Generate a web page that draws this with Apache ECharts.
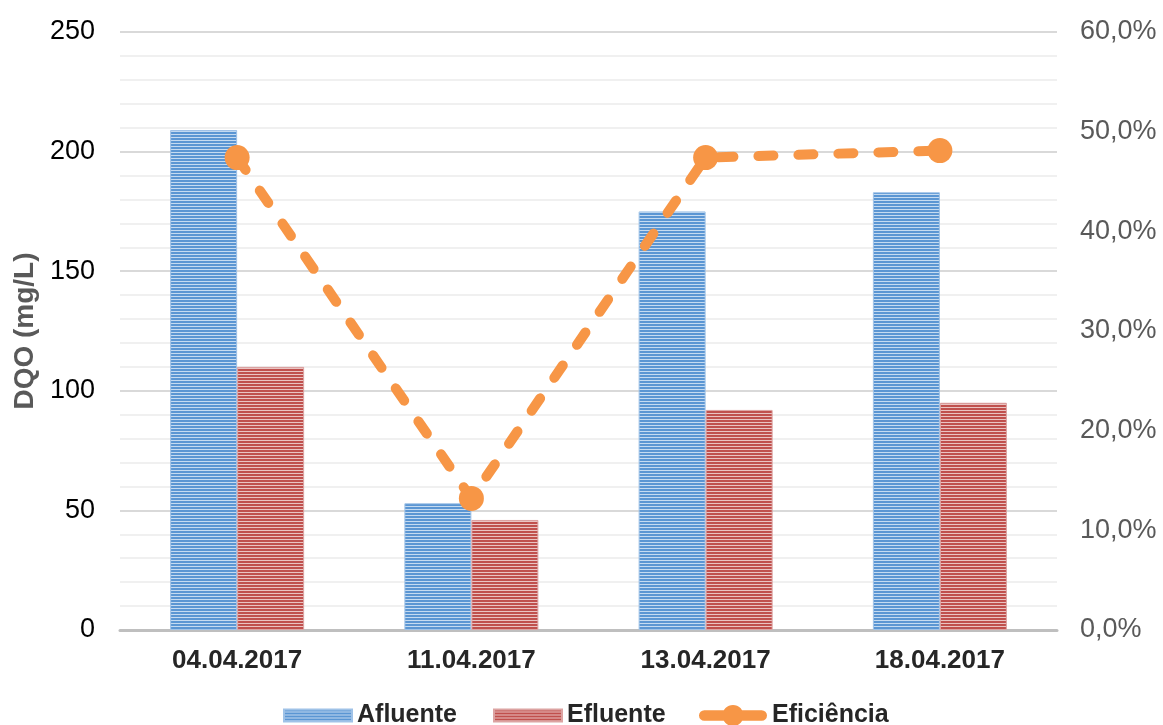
<!DOCTYPE html>
<html>
<head>
<meta charset="utf-8">
<script src="https://cdn.jsdelivr.net/npm/echarts@6/dist/echarts.min.js"></script>
<style>html,body{margin:0;padding:0;background:#fff;}#c{width:1163px;height:725px;}</style>
</head>
<body>
<div id="c"></div>
<script>
var categories = ['04.04.2017', '11.04.2017', '13.04.2017', '18.04.2017'];
var afluente = [209, 53, 175, 183];
var efluente = [110, 46, 92, 95];
var eficiencia = [47.4, 13.2, 47.4, 48.1];
var leftTicks = [0, 50, 100, 150, 200, 250];
var rightTicks = [0, 10, 20, 30, 40, 50, 60];

function stripe(dark, light) {
  var c = document.createElement('canvas');
  c.width = 4; c.height = 3;
  var ctx = c.getContext('2d');
  ctx.fillStyle = light; ctx.fillRect(0, 0, 4, 3);
  ctx.fillStyle = dark; ctx.fillRect(0, 0, 4, 2);
  return { image: c, repeat: 'repeat' };
}
var blue = stripe('#5b96d3', '#c5dbf1');
var red = stripe('#c0504d', '#eac3c2');
var lineIcon = 'path://M6,7 H60 A5,5 0 0 1 60,17 H6 A5,5 0 0 1 6,7 Z M23,12 A10,10 0 1 1 43,12 A10,10 0 1 1 23,12 Z';

var chart = echarts.init(document.getElementById('c'));
var font = 'Liberation Sans, Arial, sans-serif';
var legendText = { fontFamily: font, fontSize: 25, fontWeight: 'bold', color: '#262626' };
chart.setOption({
  animation: false,
  grid: { left: 120, right: 106, top: 32, bottom: 95 },
  legend: [
    {
      top: 698, left: 278,
      itemGap: 36, itemWidth: 68, itemHeight: 12,
      textStyle: legendText,
      data: [
        { name: 'Afluente', icon: 'rect', itemStyle: { color: blue } },
        { name: 'Efluente', icon: 'rect', itemStyle: { color: red } }
      ]
    },
    {
      top: 698, left: 694,
      itemWidth: 68, itemHeight: 25,
      textStyle: legendText,
      data: [ { name: 'Eficiência', icon: lineIcon, itemStyle: { color: '#f79646' } } ]
    }
  ],
  xAxis: {
    type: 'category',
    data: categories,
    axisLine: { lineStyle: { color: '#bfbfbf', width: 3 } },
    axisTick: { show: false },
    axisLabel: { fontFamily: font, fontSize: 26, fontWeight: 'bold', color: '#262626', margin: 18 }
  },
  yAxis: [
    {
      type: 'value', min: 0, max: 250, interval: 50,
      name: 'DQO (mg/L)', nameLocation: 'middle', nameGap: 79,
      nameTextStyle: { fontFamily: font, fontSize: 28, fontWeight: 'bold', color: '#595959' },
      axisLine: { show: false }, axisTick: { show: false },
      axisLabel: { fontFamily: font, fontSize: 27, color: '#000', margin: 25,
        formatter: function (v) { return leftTicks.indexOf(v) >= 0 ? String(v) : ''; } },
      splitLine: { lineStyle: { color: '#d9d9d9', width: 2 } },
      minorTick: { show: false, splitNumber: 5 },
      minorSplitLine: { show: true, lineStyle: { color: '#f0f0f0', width: 2 } }
    },
    {
      type: 'value', min: 0, max: 60, interval: 10,
      axisLine: { show: false }, axisTick: { show: false }, splitLine: { show: false },
      axisLabel: { fontFamily: font, fontSize: 27, color: '#595959', margin: 23,
        formatter: function (v) { return rightTicks.indexOf(v) >= 0 ? v.toFixed(1).replace('.', ',') + '%' : ''; } }
    }
  ],
  series: [
    { name: 'Afluente', type: 'bar', data: afluente, barWidth: 67, barGap: '0%',
      itemStyle: { color: blue, borderColor: '#9fc2e7', borderWidth: 1 } },
    { name: 'Efluente', type: 'bar', data: efluente, barWidth: 67, barGap: '0%',
      itemStyle: { color: red, borderColor: '#dca3a2', borderWidth: 1 } },
    { name: 'Eficiência', type: 'line', yAxisIndex: 1, data: eficiencia,
      symbol: 'circle', symbolSize: 25, z: 5,
      itemStyle: { color: '#f79646' },
      lineStyle: { color: '#f79646', width: 10, type: [15, 25], cap: 'round' } }
  ]
});
</script>
</body>
</html>
